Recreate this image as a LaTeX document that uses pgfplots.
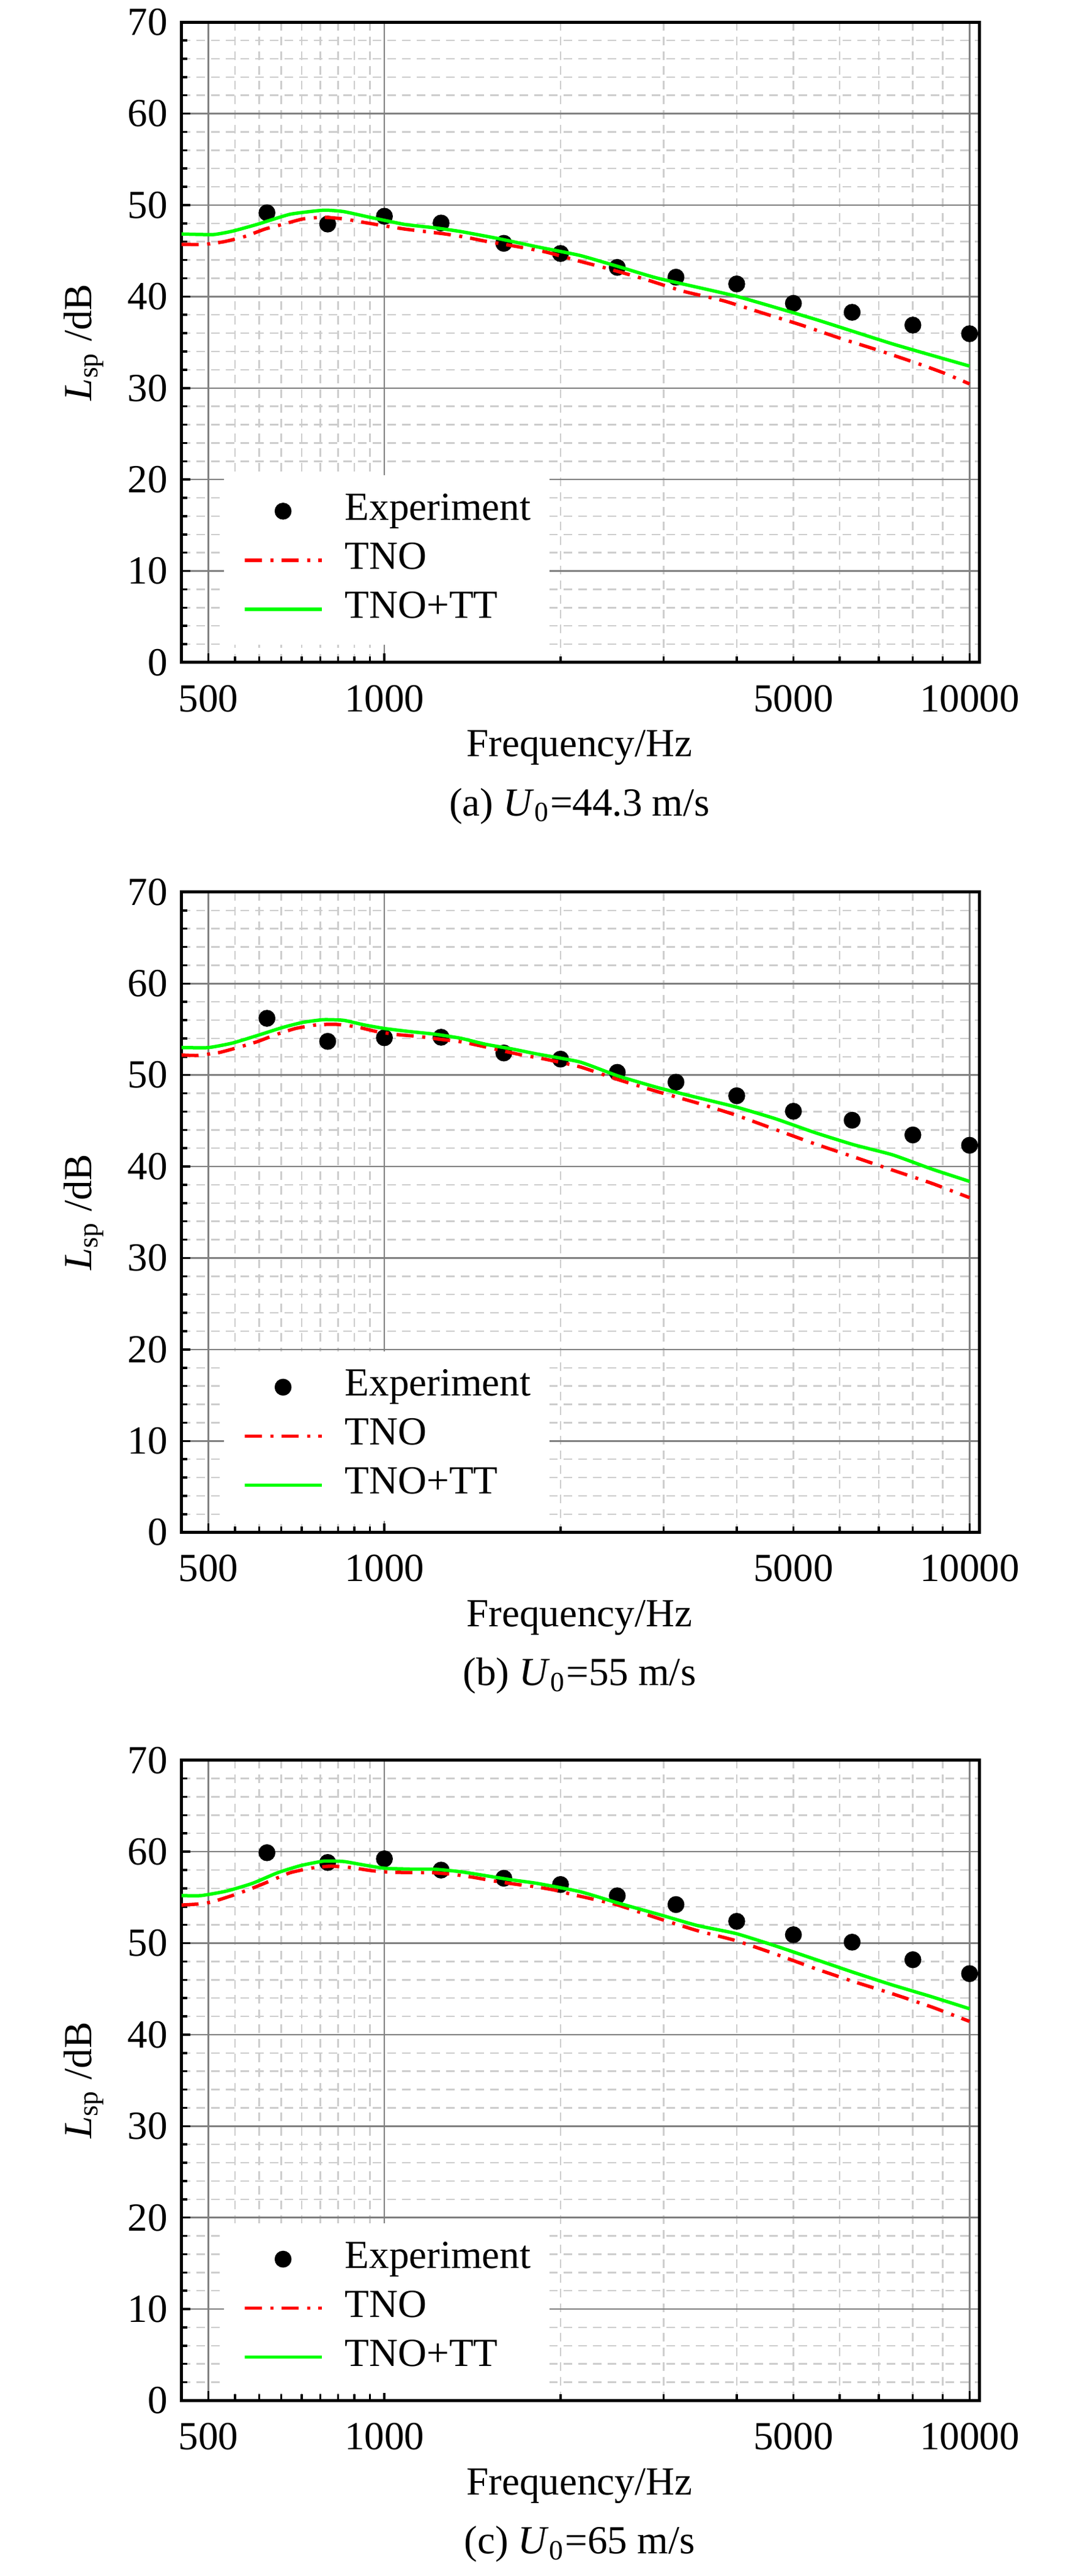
\documentclass[border=0pt]{standalone}
\usepackage{fontspec}
\setmainfont{Liberation Serif}
\usepackage{pgfplots}
\pgfplotsset{compat=1.18}
\newlength\px
\setlength\px{0.005408cm}
\definecolor{majgrid}{RGB}{128,128,128}
\definecolor{mingrid}{RGB}{205,205,205}
\definecolor{tnored}{RGB}{255,0,0}
\definecolor{ttgreen}{RGB}{0,255,0}
\pgfplotsset{
 legend image code/.code={\draw[mark repeat=2,mark phase=2,#1] plot coordinates {(0,0) (62.5\px,0) (125\px,0)};},
 every axis/.append style={
  scale only axis, width=1304.1\px, height=1045.8\px, anchor=south west,
  xmin=450, xmax=10400, ymin=0, ymax=70,
  xtick={500,1000,10000}, xticklabels={500,1000,10000},
  extra x ticks={5000}, extra x tick labels={5000},
  extra x tick style={xmajorgrids=false, major tick length=10\px},
  minor xtick={555.56,611.11,666.67,722.22,777.78,833.33,888.89,944.44,2000,3000,4000,5000,6000,7000,8000,9000},
  ytick={0,10,...,70}, yticklabels={0,10,20,30,40,50,60,70},
  minor y tick num=4,
  grid=both,
  major grid style={line width=2.5\px, color=majgrid},
  minor grid style={line width=2.5\px, color=mingrid, dash pattern=on 14\px off 10\px},
  tick align=inside, xtick pos=bottom, ytick pos=left,
  major tick length=15\px, minor tick length=10\px,
  tick style={black, line width=3.5\px},
  axis line style={line width=5\px},
  xticklabel style={yshift=-14\px},
  ylabel={\textit{L}\textsubscript{sp} /dB},
  xlabel={Frequency/Hz},
  clip mode=individual,
  legend cell align=left,
  legend style={draw=none, fill=white, inner xsep=31\px, inner ysep=28\px, row sep=19\px, column sep=36\px,
    nodes={inner sep=0pt, text height=45\px, text depth=16\px}, anchor=north west},
 },
 every axis y label/.style={at={(axis description cs:-0.1227,0.5)}, rotate=90, anchor=center},
 every axis x label/.style={at={(axis description cs:0.4988,-0.1334)}, anchor=center},
 exper/.style={only marks, mark=*, mark size=12.5\px, black},
 tno/.style={tnored, line width=5.5\px, dash pattern=on 28\px off 14\px on 5\px off 13\px, smooth, tension=0.3},
 tntt/.style={ttgreen, line width=5.5\px, smooth, tension=0.3},
}
\begin{document}
\begin{tikzpicture}
\path[use as bounding box] (0,0) rectangle (1772\px,4207\px);
% ---------------- (a)
\begin{semilogxaxis}[at={(296.5\px,3125\px)}, legend style={at={(rel axis cs:0.0525,0.2935)}}]
\addplot[exper] coordinates {(630,49.16)(800,47.93)(1000,48.78)(1250,48.04)(1600,45.82)(2000,44.71)(2500,43.19)(3150,42.12)(4000,41.38)(5000,39.26)(6300,38.28)(8000,36.88)(10000,35.94)};
\addlegendentry{Experiment}
\addplot[tno] coordinates {(450,45.71)(491,45.7)(532,46.0)(577,46.56)(625,47.38)(670,47.89)(726,48.49)(789,48.67)(852,48.49)(922,48.11)(1000,47.73)(1083,47.38)(1174,47.11)(1271,46.84)(1377,46.49)(1492,46.04)(1617,45.67)(1751,45.27)(1897,44.84)(2157,43.86)(2389,43.12)(2787,41.9)(3251,40.56)(3793,39.55)(4426,38.21)(5163,36.88)(6024,35.42)(7027,34.08)(8198,32.63)(9078,31.6)(10000,30.45)};
\addlegendentry{TNO}
\addplot[tntt] coordinates {(450,46.84)(510,46.78)(550,47.15)(606,47.89)(690,49.0)(787,49.44)(852,49.29)(952,48.62)(1083,47.89)(1221,47.51)(1350,47.11)(1569,46.33)(1823,45.44)(2157,44.5)(2505,43.3)(2934,42.0)(3992,40.04)(5433,37.54)(7390,34.82)(10000,32.4)};
\addlegendentry{TNO+TT}
\node at (axis description cs:0.4988,-0.2242) {(a) \textit{U}\textsubscript{0}=44.3 m/s};
\end{semilogxaxis}
% ---------------- (b)
\begin{semilogxaxis}[at={(296.5\px,1704.3\px)}, legend style={at={(rel axis cs:0.0525,0.284)}}]
\addplot[exper] coordinates {(630,56.2)(800,53.68)(1000,54.08)(1250,54.13)(1600,52.41)(2000,51.74)(2500,50.29)(3150,49.22)(4000,47.73)(5000,46.04)(6300,45.06)(8000,43.45)(10000,42.32)};
\addlegendentry{Experiment}
\addplot[tno] coordinates {(450,52.19)(479,52.14)(522,52.46)(562,53.01)(606,53.64)(653,54.42)(705,55.09)(767,55.49)(827,55.54)(896,55.27)(970,54.75)(1051,54.42)(1150,54.2)(1246,53.9)(1350,53.64)(1460,53.19)(1585,52.68)(1718,52.19)(1864,51.79)(2157,50.9)(2505,49.51)(2934,48.17)(3422,46.95)(3992,45.61)(4655,44.05)(5433,42.49)(6340,41.05)(7390,39.6)(8630,38.15)(10000,36.59)};
\addlegendentry{TNO}
\addplot[tntt] coordinates {(450,53.01)(500,53.0)(549,53.48)(606,54.31)(670,55.2)(726,55.76)(787,56.05)(852,55.98)(922,55.49)(1000,55.09)(1105,54.75)(1221,54.46)(1350,54.02)(1492,53.35)(1650,52.86)(1823,52.3)(2157,51.43)(2505,49.91)(2934,48.62)(3422,47.55)(3992,46.5)(4655,45.23)(5433,43.72)(6340,42.38)(7390,41.27)(8630,39.71)(10000,38.37)};
\addlegendentry{TNO+TT}
\node at (axis description cs:0.4988,-0.2242) {(b) \textit{U}\textsubscript{0}=55 m/s};
\end{semilogxaxis}
% ---------------- (c)
\begin{semilogxaxis}[at={(296.5\px,286.5\px)}, legend style={at={(rel axis cs:0.0525,0.278)}}]
\addplot[exper] coordinates {(630,59.89)(800,58.82)(1000,59.22)(1250,57.99)(1600,57.1)(2000,56.41)(2500,55.18)(3150,54.22)(4000,52.39)(5000,50.92)(6300,50.11)(8000,48.19)(10000,46.67)};
\addlegendentry{Experiment}
\addplot[tno] coordinates {(450,54.17)(486,54.3)(509,54.53)(549,55.2)(589,55.9)(638,56.8)(690,57.7)(748,58.19)(810,58.42)(878,58.26)(952,57.92)(1030,57.75)(1116,57.72)(1210,57.7)(1310,57.52)(1419,57.2)(1538,56.8)(1665,56.47)(1823,56.14)(1955,55.8)(2105,55.29)(2220,54.96)(2505,54.17)(2934,52.72)(3422,51.38)(3992,50.27)(4655,48.82)(5433,47.25)(6340,45.8)(7390,44.46)(8630,43.01)(10000,41.45)};
\addlegendentry{TNO}
\addplot[tntt] coordinates {(450,55.2)(486,55.2)(537,55.69)(595,56.54)(657,57.7)(719,58.48)(787,58.97)(852,58.93)(922,58.55)(1000,58.19)(1105,58.1)(1221,58.08)(1350,57.81)(1492,57.37)(1650,56.92)(1823,56.54)(2157,55.64)(2505,54.4)(2934,53.17)(3422,51.94)(3992,51.05)(4655,49.71)(5433,48.26)(6340,46.8)(7390,45.42)(8630,44.13)(10000,42.83)};
\addlegendentry{TNO+TT}
\node at (axis description cs:0.4988,-0.2242) {(c) \textit{U}\textsubscript{0}=65 m/s};
\end{semilogxaxis}
\end{tikzpicture}
\end{document}
